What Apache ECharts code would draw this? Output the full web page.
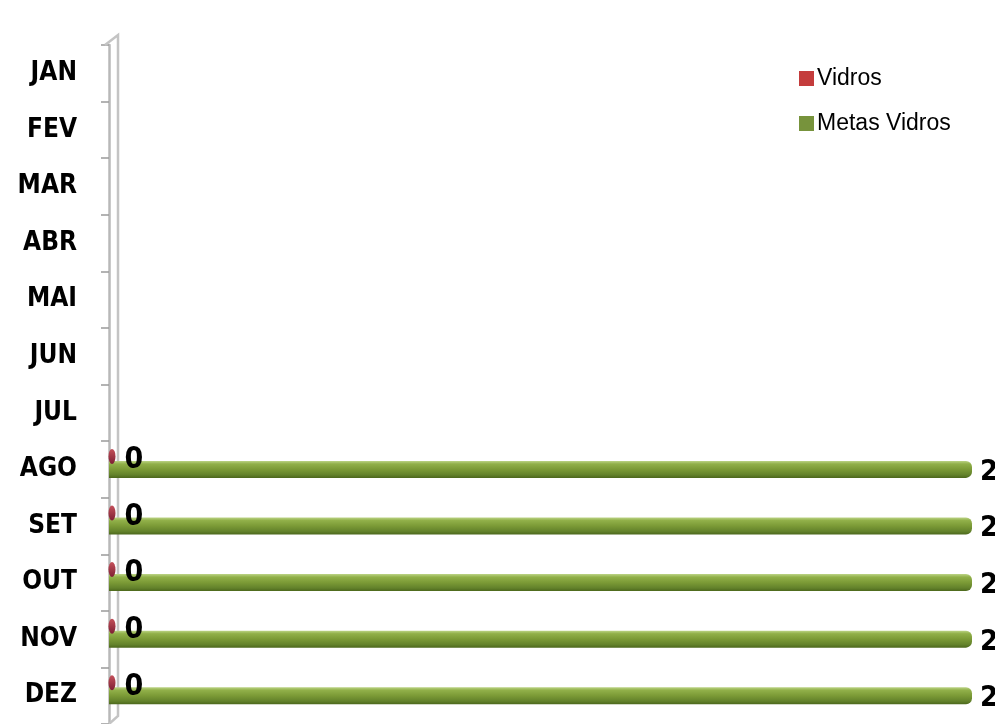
<!DOCTYPE html>
<html>
<head>
<meta charset="utf-8">
<style>
  html, body { margin: 0; padding: 0; background: #ffffff; }
  #chart { width: 995px; height: 724px; }
</style>
<script src="https://cdn.jsdelivr.net/npm/echarts@6/dist/echarts.min.js"></script>
</head>
<body>
<div id="chart"></div>
<script>
// Months shown on the category axis
const months = ['JAN', 'FEV', 'MAR', 'ABR', 'MAI', 'JUN', 'JUL', 'AGO', 'SET', 'OUT', 'NOV', 'DEZ'];
// Recorded glass collection ('-' = no entry for that month)
const vidros = ['-', '-', '-', '-', '-', '-', '-', 0, 0, 0, 0, 0];
// Monthly glass targets
const metasVidros = ['-', '-', '-', '-', '-', '-', '-', 20, 20, 20, 20, 20];

const VALUE_MAX = 20;

// Layout
const GRID_LEFT = 109, GRID_TOP = 45, GRID_RIGHT = 23, GRID_BOTTOM = -1;
const LABEL_FONT = '"DejaVu Sans Condensed", "Liberation Sans", Arial, sans-serif';

const chart = echarts.init(document.getElementById('chart'), null, { renderer: 'canvas' });

const greenCylinder = new echarts.graphic.LinearGradient(0, 0, 0, 1, [
  { offset: 0, color: '#bcd486' },
  { offset: 0.18, color: '#91b049' },
  { offset: 0.5, color: '#7b9a36' },
  { offset: 0.82, color: '#63822b' },
  { offset: 1, color: '#4c681c' }
]);

const redCap = new echarts.graphic.LinearGradient(0, 0, 0, 1, [
  { offset: 0, color: '#c4505a' },
  { offset: 1, color: '#7e1f34' }
]);

const H = 724;
// 3D back wall outline beside the category axis
const wallX = GRID_LEFT + 9, frontX = GRID_LEFT - 4;

chart.setOption({
  animation: false,
  backgroundColor: '#ffffff',
  textStyle: { fontFamily: LABEL_FONT },
  grid: { left: GRID_LEFT, top: GRID_TOP, right: GRID_RIGHT, bottom: GRID_BOTTOM, containLabel: false },
  legend: {
    orient: 'vertical',
    left: 794,
    top: 62,
    itemWidth: 15,
    itemHeight: 15,
    itemGap: 22,
    icon: 'rect',
    data: [
      { name: 'Vidros', itemStyle: { color: '#c43c3c', opacity: 1 } },
      { name: 'Metas Vidros', itemStyle: { color: '#77933c', opacity: 1 } }
    ],
    textStyle: { fontFamily: '"Liberation Sans", Arial, sans-serif', fontSize: 23, color: '#000000', padding: [0, 0, 0, -2] }
  },
  xAxis: {
    type: 'value',
    min: 0,
    max: VALUE_MAX,
    show: false
  },
  yAxis: {
    type: 'category',
    inverse: true,
    data: months,
    offset: 4,
    axisLine: { show: true, lineStyle: { color: '#b8b8b8', width: 2.5 } },
    axisTick: { show: true, length: 8, lineStyle: { color: '#9a9a9a', width: 1.5 } },
    axisLabel: {
      margin: 28,
      fontFamily: LABEL_FONT,
      fontWeight: 'bold',
      fontSize: 26,
      color: '#000000'
    },
    splitLine: { show: false }
  },
  graphic: [
    {
      type: 'polyline',
      silent: true,
      z: 1,
      shape: { points: [[frontX, GRID_TOP], [wallX, GRID_TOP - 10], [wallX, H - 8], [wallX - 9, H]] },
      style: { fill: null, stroke: '#c4c4c4', lineWidth: 2.5 }
    }
  ],
  series: [
    {
      name: 'Metas Vidros',
      type: 'bar',
      data: metasVidros,
      barWidth: 17,
      z: 3,
      itemStyle: { color: greenCylinder, borderRadius: [0, 6, 6, 0] },
      label: {
        show: true,
        position: 'right',
        distance: 8,
        offset: [0, 3],
        fontFamily: LABEL_FONT,
        fontWeight: 'bold',
        fontSize: 29,
        color: '#000000'
      }
    },
    {
      name: 'Vidros',
      type: 'scatter',
      data: vidros.map(function (v, i) { return v === '-' ? ['-', months[i]] : [v, months[i]]; }),
      symbol: 'path://M50,0 A50,50 0 1,1 50,100 A50,50 0 1,1 50,0z',
      symbolSize: [7, 15],
      symbolOffset: [3, -13],
      z: 4,
      itemStyle: { color: redCap, opacity: 1 },
      label: {
        show: true,
        position: 'right',
        distance: 9,
        offset: [0, 4],
        formatter: function (p) { return String(p.value[0]); },
        fontFamily: LABEL_FONT,
        fontWeight: 'bold',
        fontSize: 30,
        color: '#000000'
      }
    }
  ]
});
</script>
</body>
</html>
